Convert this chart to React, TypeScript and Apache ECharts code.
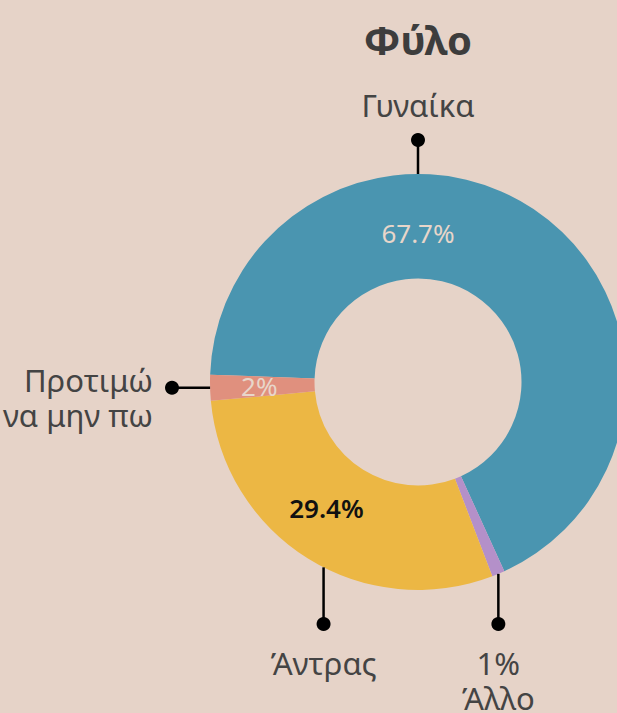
import React, { useEffect, useRef } from "react";
import * as echarts from "echarts";

const title = "Φύλο";
const categories = ["Γυναίκα", "Άλλο", "Άντρας", "Προτιμώ να μην πω"];
const values = [67.7, 1, 29.4, 2];
const outerLabels = ["Γυναίκα", "1%\nΆλλο", "Άντρας", "Προτιμώ\nνα μην πω"];
const colors = ["#4a95b0", "#b490c9", "#ecb744", "#e0907e"];
const innerLabelColors = ["#e8d6ca", "#e8d6ca", "#111111", "#e8d6ca"];

// layout choices (not data)
const BG = "#e6d3c8";
const FONT = "'Noto Sans', 'Open Sans', sans-serif";
const CX = 418;
const CY = 382;
const R_IN = 103.5;
const R_OUT = 208;
const START = 178;
const lineAngle: Record<string, number> = { "Γυναίκα": 90, "Άντρας": -117 };
const innerAngle: Record<string, number> = { "Γυναίκα": 90, "Άντρας": -126 };
const innerRadius: Record<string, number> = { "Γυναίκα": 149 };
const LEAD = 34;
const OUT_FONT = 31;
const OUT_LH = 35;

export default function App() {
  const ref = useRef<HTMLDivElement>(null);
  useEffect(() => {
    document.body.style.margin = "0";
    document.body.style.background = BG;
    const chart = echarts.init(ref.current!, null, { renderer: "svg" });
    const total = values.reduce((a, b) => a + b, 0);
    let cum = 0;
    const mids: number[] = [];
    values.forEach((v) => {
      const a0 = START - (cum / total) * 360;
      cum += v;
      const a1 = START - (cum / total) * 360;
      mids.push((a0 + a1) / 2);
    });
    const rad = (d: number) => (d * Math.PI) / 180;
    const graphics: any[] = [
      {
        type: "text",
        x: CX,
        y: 39,
        style: {
          text: title,
          fontSize: 40,
          fontWeight: "bold",
          fontFamily: FONT,
          fill: "#3d3d3d",
          align: "center",
          verticalAlign: "middle",
          textAlign: "center",
          textVerticalAlign: "middle",
        },
      },
    ];
    categories.forEach((name, i) => {
      const ang = lineAngle[name] ?? mids[i];
      const c = Math.cos(rad(ang));
      const s = Math.sin(rad(ang));
      const ax = CX + R_OUT * c;
      const ay = CY - R_OUT * s;
      const nLines = outerLabels[i].split("\n").length;
      const half = ((nLines - 1) * OUT_LH) / 2;
      let ex = ax, ey = ay;
      let tx = 0, ty = 0, align = "center";
      if (Math.abs(s) >= Math.abs(c)) {
        if (s > 0) {
          ey = CY - R_OUT - LEAD;
          tx = ax; ty = ey - 35 - half;
        } else {
          ey = CY + R_OUT + LEAD;
          tx = ax; ty = ey + 39 + half;
        }
      } else {
        if (c < 0) {
          ex = CX - R_OUT - LEAD - 4;
          tx = ex - 19; ty = ey + 10; align = "right";
        } else {
          ex = CX + R_OUT + LEAD;
          tx = ex + 19; ty = ey + 10; align = "left";
        }
      }
      graphics.push({
        type: "line",
        shape: { x1: ax, y1: ay, x2: ex, y2: ey },
        style: { stroke: "#000", lineWidth: 2.5 },
        z: 10,
      });
      graphics.push({
        type: "circle",
        shape: { cx: ex, cy: ey, r: 7 },
        style: { fill: "#000" },
        z: 10,
      });
      graphics.push({
        type: "text",
        x: tx,
        y: ty,
        style: {
          text: outerLabels[i],
          fontSize: OUT_FONT,
          fontFamily: FONT,
          fill: "#444444",
          align,
          verticalAlign: "middle",
          textAlign: align,
          textVerticalAlign: "middle",
          lineHeight: OUT_LH,
        },
        z: 10,
      });
    });

    chart.setOption({
      animation: false,
      backgroundColor: BG,
      series: [
        {
          type: "pie",
          center: [CX, CY],
          radius: [R_IN, R_OUT],
          startAngle: START,
          clockwise: true,
          avoidLabelOverlap: false,
          silent: true,
          itemStyle: { borderWidth: 0 },
          label: {
            show: true,
            position: "inside",
            fontSize: 26,
            fontFamily: FONT,
            formatter: (p: any) => p.value + "%",
          },
          labelLine: { show: false },
          labelLayout: (p: any) => {
            const name = categories[p.dataIndex];
            const a = innerAngle[name];
            if (a === undefined) return {};
            const r = innerRadius[name] ?? (R_IN + R_OUT) / 2;
            return { x: CX + r * Math.cos(rad(a)), y: CY - r * Math.sin(rad(a)) };
          },
          data: categories.map((name, i) => ({
            name,
            value: values[i],
            itemStyle: { color: colors[i] },
            label: {
              show: values[i] >= 1.5,
              color: innerLabelColors[i],
              fontWeight: innerLabelColors[i] === "#111111" ? 600 : 400,
            },
          })),
        },
      ],
      graphic: graphics,
    });
    return () => chart.dispose();
  }, []);
  return <div ref={ref} style={{ width: 617, height: 713, background: BG }} />;
}
